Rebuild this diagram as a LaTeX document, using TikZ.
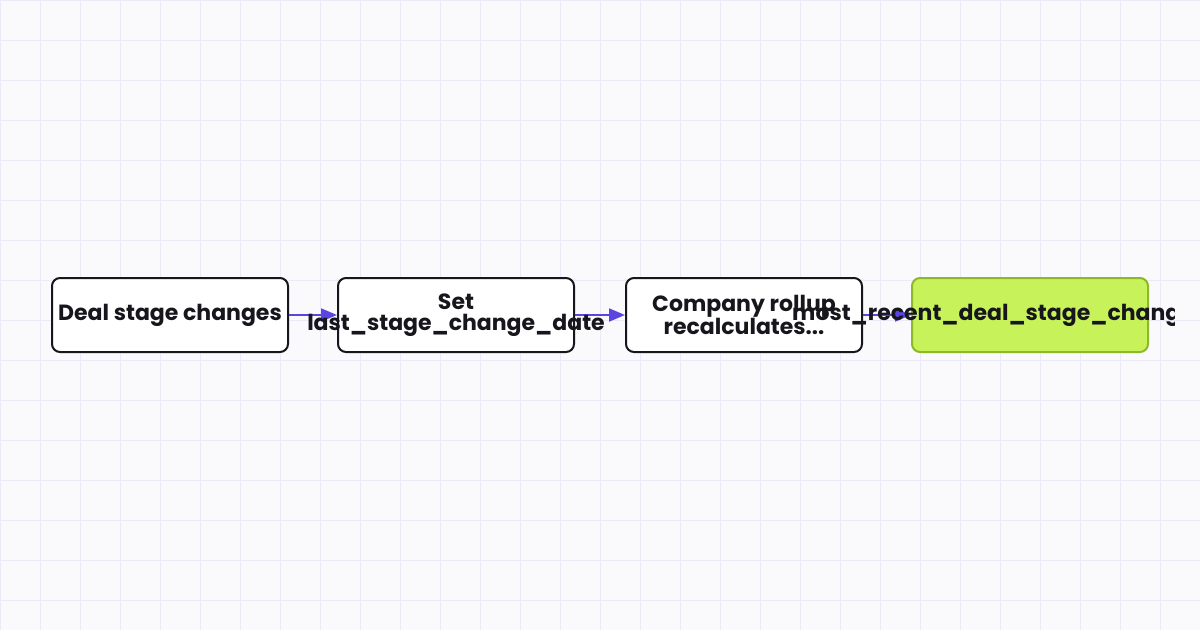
\documentclass[tikz,border=0pt]{standalone}
\usepackage{fontspec}
\setmainfont{Poppins}[BoldFont={Poppins Bold}]
\usetikzlibrary{arrows.meta}
\definecolor{bgc}{HTML}{FAFAFD}
\definecolor{gridc}{HTML}{ECEAF8}
\definecolor{edgec}{HTML}{16161C}
\definecolor{arrc}{HTML}{5B45E0}
\definecolor{limef}{HTML}{C8F25A}
\definecolor{limed}{HTML}{8DB82A}
\definecolor{txtc}{HTML}{16161C}
\tikzset{
  stepbox/.style={draw=edgec, fill=white, line width=2pt, rounded corners=8pt,
    minimum width=236pt, minimum height=74pt, inner sep=0pt},
  endbox/.style={stepbox, draw=limed, fill=limef},
  lbl/.style={font=\bfseries\fontsize{22}{21}\selectfont, text=txtc, align=center, inner sep=0pt},
  arr/.style={draw=arrc, line width=2pt, -{Triangle[length=16pt,width=13pt]}}
}
\begin{document}
\begin{tikzpicture}[x=1pt,y=-1pt]
\useasboundingbox (0,0) rectangle (1200,630);
\fill[bgc] (0,0) rectangle (1200,630);
\foreach \i in {0,40,...,1200} \draw[gridc, line width=1pt] (\i,0) -- (\i,630);
\foreach \j in {0,40,...,600} \draw[gridc, line width=1pt] (0,\j) -- (1200,\j);
\node[stepbox] (b1) at (170,315) {};
\node[stepbox] (b2) at (456,315) {};
\node[stepbox] (b3) at (744,315) {};
\node[endbox] (b4) at (1030,315) {};
\draw[arr] (b1.east) -- (b2.west);
\draw[arr] (b2.east) -- (b3.west);
\draw[arr] (b3.east) -- (b4.west);
\node[lbl] (t1) at (170,315) {Deal stage changes};
\node[lbl] (t2) at (456,315) {Set\\last\_stage\_change\_date};
\node[lbl] (t3) at (744,315) {Company rollup\\recalculates...};
\begin{scope}
\clip (0,0) rectangle (1174,630);
\node[lbl, anchor=west] (t4) at (792,315) {most\_recent\_deal\_stage\_change};
\end{scope}
\end{tikzpicture}
\end{document}
